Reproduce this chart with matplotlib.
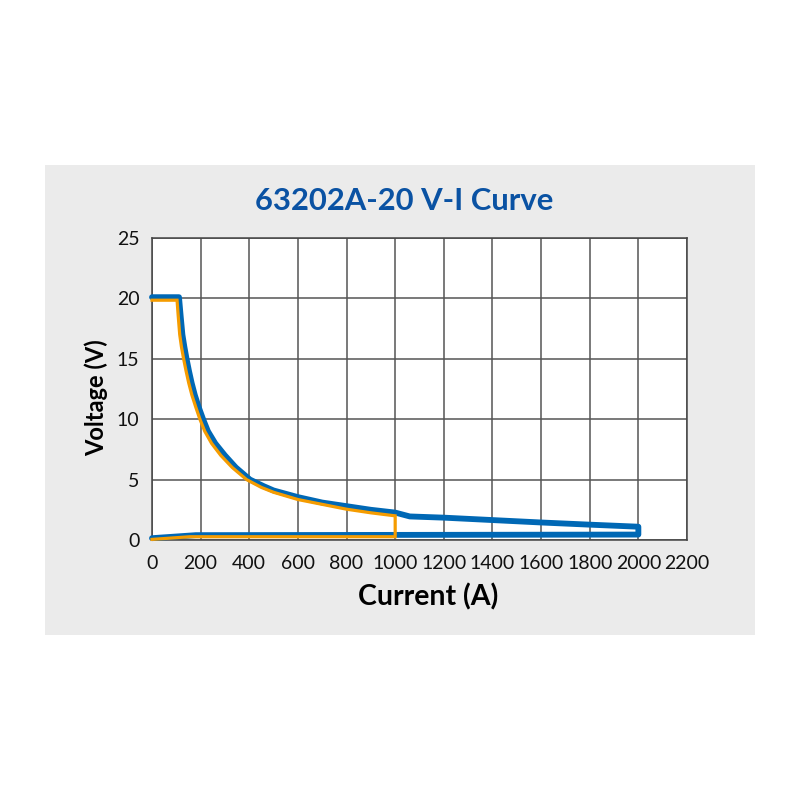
import matplotlib
matplotlib.use("Agg")
from matplotlib import pyplot as plt
from matplotlib.patches import Rectangle

# blue envelope (63202A-20)
blue_i = [0, 111, 118, 125, 133, 142, 152, 163, 176, 192, 210, 230, 260, 300,
          345, 403, 460, 500, 600, 700, 800, 900, 1000, 1060, 1200, 1400, 1600,
          1800, 2000, 2000, 180, 0]
blue_v = [20.1, 20.1, 18.5, 17, 16, 15, 14, 13, 12, 11, 10, 9, 8, 7,
          6, 5.0, 4.45, 4.1, 3.55, 3.1, 2.8, 2.5, 2.27, 1.95, 1.85, 1.65, 1.45,
          1.27, 1.1, 0.45, 0.4, 0.15]

# orange envelope
orange_i = [0, 103, 108, 114, 121, 130, 140, 151, 164, 180, 197, 217, 245,
            283, 330, 389, 450, 500, 600, 700, 800, 900, 1000, 1000, 156, 0]
orange_v = [19.85, 19.85, 18.5, 17, 16, 15, 14, 13, 12, 11, 10, 9, 8,
            7, 6, 5, 4.35, 3.95, 3.35, 2.95, 2.55, 2.25, 2.0, 0.27, 0.27, 0.05]

x_ticks = list(range(0, 2201, 200))
y_ticks = [0, 5, 10, 15, 20, 25]


def main():
    plt.rcParams['font.family'] = ['Lato', 'DejaVu Sans']
    fig = plt.figure(figsize=(8, 8), dpi=100)
    fig.patch.set_facecolor('white')
    fig.patches.append(Rectangle((45 / 800, 165 / 800), 710 / 800, 470 / 800,
                                 transform=fig.transFigure, facecolor='#ebebeb',
                                 edgecolor='none', zorder=-10))

    ax = fig.add_axes([152 / 800, 260 / 800, 535 / 800, 302 / 800])
    ax.set_zorder(5)
    ax.set_facecolor('white')

    ax.plot(blue_i, blue_v, color='#0068b5', lw=4.2, solid_joinstyle='round',
            solid_capstyle='round', clip_on=False, zorder=3)
    ax.plot(orange_i, orange_v, color='#f59c00', lw=2.3, solid_joinstyle='miter',
            clip_on=False, zorder=4)

    ax.set_xlim(0, 2200)
    ax.set_ylim(0, 25)
    ax.set_xticks(x_ticks)
    ax.set_yticks(y_ticks)
    ax.tick_params(length=0, labelsize=14, colors='#111111')
    ax.tick_params(axis='x', pad=11)
    ax.tick_params(axis='y', pad=9)
    ax.grid(True, color='#555555', lw=1.1)
    ax.set_axisbelow(True)
    for s in ax.spines.values():
        s.set_color('#444444')
        s.set_linewidth(1.1)

    ax.set_xlabel('Current (A)', fontsize=20.5, fontweight='bold', labelpad=8)
    ax.set_ylabel('Voltage (V)', fontsize=17, fontweight='bold', labelpad=6)
    ax.xaxis.label.set_x(0.516)
    ax.yaxis.label.set_y(0.473)
    fig.text(0.505, 0.749, '63202A-20 V-I Curve', ha='center', va='center',
             fontsize=22.3, fontweight='bold', color='#0a52a3')

    fig.savefig('out.png', dpi=100, facecolor='white')


if __name__ == "__main__":
    main()
